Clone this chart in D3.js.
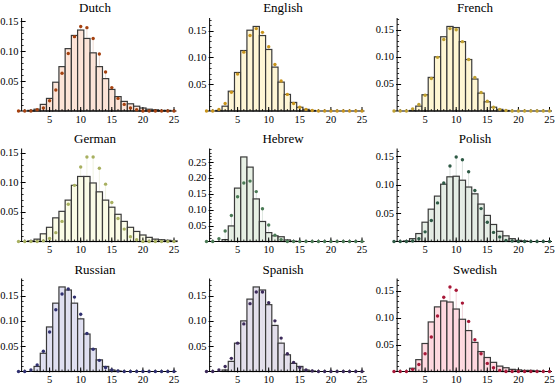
<!DOCTYPE html>
<html><head><meta charset="utf-8">
<script src="https://cdn.jsdelivr.net/npm/d3@7"></script>
<style>body{margin:0;background:#fff}svg{display:block}</style>
</head><body>
<script>
// values index = word length 0..25
const lengths = d3.range(0, 26);
const languages = ["Dutch","English","French","German","Hebrew","Polish","Russian","Spanish","Swedish"];
const xTicks = [5, 10, 15, 20, 25];

const dutchBars   = [0,0,0.001,0.003,0.011,0.021,0.048,0.074,0.104,0.126,0.135,0.121,0.097,0.074,0.054,0.036,0.024,0.016,0.012,0.008,0.005,0.003,0.002,0.001,0.001,0];
const dutchDots   = [0,0,0,0.002,0.005,0.017,0.035,0.063,0.096,0.124,0.141,0.139,0.121,0.095,0.065,0.039,0.021,0.011,0.005,0.002,0,0,0,0,0,0];
const englishBars = [0,0,0.001,0.009,0.037,0.072,0.113,0.151,0.158,0.141,0.115,0.082,0.054,0.031,0.016,0.007,0.003,0.001,0,0,0,0,0,0,0,0];
const englishDots = [0,0,0.003,0.014,0.035,0.069,0.110,0.141,0.154,0.147,0.120,0.087,0.056,0.031,0.014,0.007,0.003,0.001,0,0,0,0,0,0,0,0];
const frenchBars  = [0,0,0,0.001,0.009,0.030,0.062,0.100,0.137,0.156,0.154,0.128,0.095,0.059,0.033,0.017,0.007,0.003,0.001,0,0,0,0,0,0,0];
const frenchDots  = [0,0,0,0.004,0.012,0.029,0.060,0.099,0.132,0.152,0.150,0.128,0.095,0.062,0.034,0.018,0.007,0.003,0.001,0,0,0,0,0,0,0];
const germanBars  = [0,0,0.001,0.004,0.013,0.024,0.040,0.051,0.070,0.095,0.110,0.110,0.099,0.084,0.070,0.058,0.046,0.034,0.024,0.017,0.011,0.007,0.004,0.003,0.002,0.001];
const germanDots  = [0,0,0,0,0.001,0.005,0.015,0.034,0.063,0.095,0.126,0.143,0.143,0.124,0.097,0.066,0.039,0.021,0.008,0.003,0,0,0,0,0,0];
const hebrewBars  = [0,0,0,0.006,0.049,0.168,0.266,0.234,0.134,0.063,0.028,0.018,0.015,0.005,0.001,0,0,0,0,0,0,0,0,0,0,0];
const hebrewDots  = [0,0,0.009,0.033,0.082,0.141,0.184,0.190,0.157,0.103,0.052,0.020,0.006,0,0,0,0,0,0,0,0,0,0,0,0,0];
const polishBars  = [0,0,0.001,0.005,0.014,0.034,0.057,0.080,0.101,0.114,0.115,0.108,0.096,0.084,0.066,0.046,0.030,0.018,0.010,0.005,0.002,0.001,0,0,0,0];
const polishDots  = [0,0,0,0.001,0.005,0.017,0.037,0.068,0.103,0.133,0.149,0.144,0.123,0.090,0.058,0.034,0.016,0.008,0.002,0.001,0,0,0,0,0,0];
const russianBars = [0,0,0,0.010,0.036,0.088,0.135,0.167,0.161,0.135,0.104,0.074,0.045,0.023,0.010,0.003,0.001,0,0,0,0,0,0,0,0,0];
const russianDots = [0,0,0.003,0.013,0.040,0.078,0.122,0.153,0.163,0.147,0.113,0.075,0.044,0.022,0.008,0.003,0.001,0,0,0,0,0,0,0,0,0];
const spanishBars = [0,0,0,0.003,0.020,0.056,0.100,0.143,0.167,0.161,0.132,0.091,0.056,0.033,0.016,0.010,0.003,0.001,0,0,0,0,0,0,0,0];
const spanishDots = [0,0,0.003,0.010,0.026,0.056,0.094,0.134,0.157,0.157,0.136,0.100,0.066,0.035,0.018,0.008,0.003,0.001,0,0,0,0,0,0,0,0];
const swedishBars = [0,0,0,0.006,0.022,0.052,0.092,0.120,0.131,0.129,0.116,0.097,0.076,0.054,0.037,0.026,0.017,0.010,0.007,0.004,0.003,0.002,0.002,0.001,0,0];
const swedishDots = [0,0,0,0.004,0.013,0.033,0.064,0.103,0.138,0.157,0.151,0.127,0.093,0.059,0.033,0.015,0.007,0.002,0,0,0,0,0,0,0,0];

const barSeries = [dutchBars, englishBars, frenchBars, germanBars, hebrewBars, polishBars, russianBars, spanishBars, swedishBars];
const dotSeries = [dutchDots, englishDots, frenchDots, germanDots, hebrewDots, polishDots, russianDots, spanishDots, swedishDots];

const barFills = ["#fde0d2","#fff6d0","#fff6cc","#fafbe3","#e4eee0","#e2ebe2","#dcdcf0","#e1dcea","#ffd4dc"];
const dotColors = ["#a5410f","#c8941c","#c0a030","#a8b060","#4a7a55","#2e5a45","#303070","#3c2a5a","#a81838"];

const W = 556, H = 390;
const colV0 = [18.5, 206.5, 394];
const unit = 6.22;
const rowBase = [111, 241.5, 371.5];
const plotH = 93;
const titleX = [95, 283, 475];
const titleY = [12, 143, 274];
const FONT = '"Liberation Serif"';

const svg = d3.select("body").append("svg").attr("width", W).attr("height", H);

languages.forEach((lang, i) => {
  const r = Math.floor(i / 3), c = i % 3;
  const bars = barSeries[i], dots = dotSeries[i];
  const ymax = Math.max(d3.max(bars), d3.max(dots)) * 1.1;
  const x = d3.scaleLinear().domain([0, 25]).range([colV0[c], colV0[c] + 25 * unit]);
  const y = d3.scaleLinear().domain([0, ymax]).range([rowBase[r], rowBase[r] - plotH]);
  const g = svg.append("g");

  // stems
  g.selectAll("line.stem").data(lengths.filter(k => dots[k] > 0)).join("line")
    .attr("x1", k => x(k)).attr("x2", k => x(k))
    .attr("y1", k => y(dots[k])).attr("y2", y(0))
    .attr("stroke", dotColors[i]).attr("stroke-opacity", 0.18).attr("stroke-width", 1);

  // bars
  g.selectAll("rect").data(lengths.filter(k => bars[k] > 0)).join("rect")
    .attr("x", k => x(k - 0.5)).attr("width", x(1) - x(0))
    .attr("y", k => y(bars[k])).attr("height", k => y(0) - y(bars[k]))
    .attr("fill", barFills[i]).attr("fill-opacity", 0.85)
    .attr("stroke", "#3a3a3a").attr("stroke-width", 1.2);

  // y axis
  const yTicksMajor = d3.range(0.05, ymax, 0.05);
  const yTicksMinor = d3.range(0.01, ymax, 0.01);
  const ax0 = x(0.5);
  g.append("line").attr("x1", ax0).attr("x2", ax0).attr("y1", y(0)).attr("y2", y(ymax))
    .attr("stroke", "#000").attr("stroke-width", 1);
  g.selectAll("line.ymin").data(yTicksMinor).join("line")
    .attr("x1", ax0).attr("x2", ax0 + 2).attr("y1", d => Math.round(y(d)) + 0.5).attr("y2", d => Math.round(y(d)) + 0.5)
    .attr("stroke", "#000").attr("stroke-width", 0.8);
  g.selectAll("line.ymaj").data(yTicksMajor).join("line")
    .attr("x1", ax0 - 1).attr("x2", ax0 + 4).attr("y1", d => Math.round(y(d)) + 0.5).attr("y2", d => Math.round(y(d)) + 0.5)
    .attr("stroke", "#000").attr("stroke-width", 1);
  g.selectAll("text.ylab").data(yTicksMajor).join("text")
    .attr("x", ax0 - 3).attr("y", d => y(d) + 3.5)
    .attr("text-anchor", "end").attr("font-size", 10.5).attr("fill", "#000")
    .style("font-family", FONT)
    .text(d => d3.format(".2f")(d));

  // x axis
  g.append("line").attr("x1", x(-0.15)).attr("x2", x(25.4)).attr("y1", y(0)).attr("y2", y(0))
    .attr("stroke", "#000").attr("stroke-width", 1);
  g.selectAll("line.xmin").data(lengths.filter(k => k > 0)).join("line")
    .attr("x1", k => x(k)).attr("x2", k => x(k)).attr("y1", y(0)).attr("y2", y(0) - 2)
    .attr("stroke", "#000").attr("stroke-width", 0.8);
  g.selectAll("line.xmaj").data(xTicks).join("line")
    .attr("x1", k => x(k)).attr("x2", k => x(k)).attr("y1", y(0) + 1).attr("y2", y(0) - 4)
    .attr("stroke", "#000").attr("stroke-width", 1);
  g.selectAll("text.xlab").data(xTicks).join("text")
    .attr("x", k => x(k)).attr("y", y(0) + 11.5)
    .attr("text-anchor", "middle").attr("font-size", 10.5).attr("fill", "#000")
    .style("font-family", FONT)
    .text(k => k);

  // dots
  g.selectAll("circle").data(lengths).join("circle")
    .attr("cx", k => x(k)).attr("cy", k => y(dots[k])).attr("r", 1.7)
    .attr("fill", dotColors[i]);

  // title
  svg.append("text").attr("x", titleX[c]).attr("y", titleY[r])
    .attr("text-anchor", "middle").attr("font-size", 13).attr("fill", "#000")
    .style("font-family", FONT)
    .text(lang);
});
</script>
</body></html>
